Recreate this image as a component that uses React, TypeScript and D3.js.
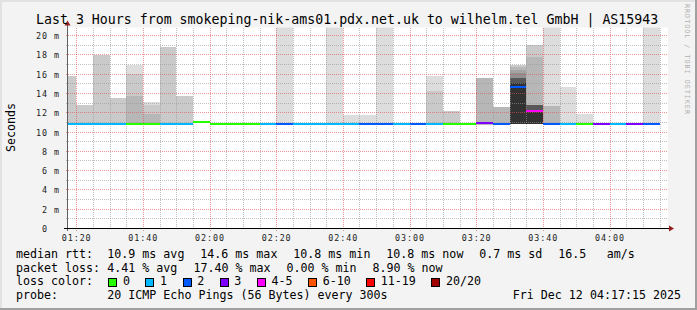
import React from "react";
import * as d3 from "d3";

const W = 697;
const H = 310;

const titleText = "Last 3 Hours from smokeping-nik-ams01.pdx.net.uk to wilhelm.tel GmbH | AS15943";
const yAxisTitle = "Seconds";
const watermark = "RRDTOOL / TOBI OETIKER";

// 5-minute steps (bar start times)
const barStarts = [
  "01:15", "01:20", "01:25", "01:30", "01:35", "01:40", "01:45", "01:50", "01:55",
  "02:00", "02:05", "02:10", "02:15", "02:20", "02:25", "02:30", "02:35", "02:40", "02:45", "02:50", "02:55",
  "03:00", "03:05", "03:10", "03:15", "03:20", "03:25", "03:30", "03:35", "03:40", "03:45", "03:50", "03:55",
  "04:00", "04:05", "04:10",
];
// loss bucket index per step (into lossLabels / lossColors)
const lossBucket = [
  1, 1, 1, 1, 0, 0, 1, 1, 0,
  0, 0, 0, 1, 2, 1, 1, 1, 1, 2, 2, 1,
  2, 1, 0, 0, 3, 2, 2, 4, 2, 1, 0, 3,
  1, 3, 2,
];
// median rtt (ms)
const medianMs = [
  10.8, 10.8, 10.8, 10.8, 10.8, 10.8, 10.8, 10.8, 11.0,
  10.8, 10.8, 10.8, 10.8, 10.8, 10.8, 10.8, 10.8, 10.8, 10.8, 10.8, 10.8,
  10.8, 10.8, 10.8, 10.8, 10.9, 10.8, 14.6, 12.15, 10.8, 10.8, 10.8, 10.8,
  10.8, 10.8, 10.8,
];
// lowest ping (ms) per step
const minPingMs = [
  10.7, 10.7, 10.7, 10.7, 10.7, 10.7, 10.7, 10.7, 10.8,
  10.7, 10.7, 10.7, 10.7, 10.7, 10.7, 10.7, 10.7, 10.7, 10.7, 10.7, 10.7,
  10.7, 10.7, 10.7, 10.7, 10.7, 10.7, 10.75, 10.75, 10.7, 10.7, 10.7, 10.7,
  10.7, 10.7, 10.7,
];
// smoke layers per step: [layer level (1 = outermost), upper ping (ms)]
const smokeLayers: [number, number][][] = [
  [[2, 15.8]],
  [[2, 12.7]],
  [[2, 17.9]],
  [[2, 13.5]],
  [[1, 16.9], [2, 16.0], [3, 13.7]],
  [[1, 13.06], [2, 12.7], [3, 11.85]],
  [[2, 18.76]],
  [[2, 13.7]],
  [],
  [],
  [],
  [],
  [],
  [[1, 25.0]],
  [],
  [],
  [[1, 25.0]],
  [[1, 11.7]],
  [[1, 11.7]],
  [[1, 25.0]],
  [],
  [],
  [[1, 15.78], [2, 14.2]],
  [[2, 12.1]],
  [],
  [[3, 15.58]],
  [[3, 12.57]],
  [[2, 16.9], [3, 16.72], [4, 16.37], [5, 16.03], [8, 15.58], [10, 15.0]],
  [[2, 18.96], [3, 17.75], [8, 12.75], [10, 12.2]],
  [[1, 25.0], [3, 12.6]],
  [[1, 14.6]],
  [[1, 11.85]],
  [],
  [],
  [],
  [[1, 25.0]],
];

const lossLabels = ["0", "1", "2", "3", "4-5", "6-10", "11-19", "20/20"];
const lossColors = ["#26ff00", "#00b8ff", "#0059ff", "#7e00ff", "#ff00ff", "#ff5500", "#ff0000", "#a10000"];

const yTickValues = [0, 2, 4, 6, 8, 10, 12, 14, 16, 18, 20];

const medianLine = ["median rtt:", "10.9 ms avg", "14.6 ms max", "10.8 ms min", "10.8 ms now", "0.7 ms sd"];
const medianExtra = ["16.5", "am/s"];
const lossLine = ["packet loss:", "4.41 % avg", "17.40 % max", "0.00 % min", "8.90 % now"];
const lossColorTitle = "loss color:";
const probeLine = ["probe:", "20 ICMP Echo Pings (56 Bytes) every 300s"];
const dateText = "Fri Dec 12 04:17:15 2025";

const FONT = "'DejaVu Sans Mono', monospace";

function toDate(s: string) {
  const [h, m] = s.split(":").map(Number);
  return new Date(2025, 11, 12, h, m, 0);
}

function grey(level: number) {
  const v = Math.round((190 / 10) * (10 - level) + 50);
  return d3.rgb(v, v, v).formatHex();
}

export default function App() {
  const X0 = 67;
  const X1 = 667;
  const YB = 228;
  const YT = 27.5;
  const tStart = new Date(2025, 11, 12, 1, 17, 15);
  const tEnd = new Date(2025, 11, 12, 4, 17, 15);
  const x = d3.scaleTime().domain([tStart, tEnd]).range([X0, X1]);
  const y = d3.scaleLinear().domain([0, (YB - YT) / 9.65]).range([YB, YT]);

  const majorT = d3.timeMinute.every(20)!.range(tStart, tEnd);
  const minorT = d3.timeMinute
    .every(5)!
    .range(tStart, tEnd)
    .filter((t) => t.getMinutes() % 20 !== 0);
  const fmt = d3.timeFormat("%H:%M");
  const yMinor = d3.range(1, 21);

  const GRID_MINOR = "rgba(150,150,150,0.6)";
  const GRID_MAJOR = "rgba(225,80,80,0.6)";

  const bars = barStarts.map((s, i) => {
    const t0 = toDate(s);
    const t1 = d3.timeMinute.offset(t0, 5);
    return {
      x0: Math.round(Math.max(X0, x(t0))),
      x1: Math.round(Math.min(X1, x(t1))),
      i,
    };
  });

  const CW = 7.02; // legend char pitch
  const legendFont = 11.65;
  const L1 = 258;
  const L2 = 271.7;
  const L3 = 285.4;
  const L4 = 299;

  // legend boxes layout
  const boxes: { bx: number; lx: number; i: number }[] = [];
  let bx = 108.3;
  lossLabels.forEach((lab, i) => {
    boxes.push({ bx, lx: bx + 14.7, i });
    bx += 30.1 + lab.length * CW;
  });

  const gridTop = 28;

  return (
    <svg
      width={W}
      height={H}
      style={{ position: "absolute", left: 0, top: 0, display: "block" }}
      fontFamily={FONT}
    >
      <defs>
        <clipPath id="plotclip">
          <rect x={X0} y={YT} width={X1 - X0} height={YB - YT} />
        </clipPath>
        <pattern id="hMinor" x={0} y={0} width={2} height={1} patternUnits="userSpaceOnUse">
          <rect x={0} y={0} width={1} height={1} fill={GRID_MINOR} />
        </pattern>
        <pattern id="hMajor" x={0} y={0} width={2} height={1} patternUnits="userSpaceOnUse">
          <rect x={0} y={0} width={1} height={1} fill={GRID_MAJOR} />
        </pattern>
        <pattern id="vMinor" x={0} y={0} width={1} height={2} patternUnits="userSpaceOnUse">
          <rect x={0} y={0} width={1} height={1} fill={GRID_MINOR} />
        </pattern>
        <pattern id="vMajor" x={0} y={0} width={1} height={2} patternUnits="userSpaceOnUse">
          <rect x={0} y={0} width={1} height={1} fill={GRID_MAJOR} />
        </pattern>
      </defs>
      {/* background + frame */}
      <rect x={0} y={0} width={W} height={H} fill="#f3f3f3" />
      <rect x={0} y={0} width={W} height={2} fill="#e2e2e2" />
      <rect x={0} y={0} width={2} height={H} fill="#e2e2e2" />
      <rect x={0} y={H - 2} width={W} height={2} fill="#a0a0a0" />
      <rect x={W - 2} y={0} width={2} height={H} fill="#a0a0a0" />

      {/* canvas */}
      <rect x={X0} y={YT} width={X1 - X0 + 1} height={YB - YT} fill="#ffffff" />

      {/* smoke */}
      <g clipPath="url(#plotclip)">
        {bars.map((b) =>
          smokeLayers[b.i].map(([lvl, top], k) => {
            const yt = Math.round(y(top));
            const yb = Math.round(y(minPingMs[b.i]));
            return (
              <rect
                key={`s${b.i}-${k}`}
                x={b.x0}
                y={yt}
                width={b.x1 - b.x0}
                height={Math.max(0, yb - yt)}
                fill={grey(lvl)}
                shapeRendering="crispEdges"
              />
            );
          })
        )}
      </g>

      {/* grid (dotted, 1px on / 1px off) */}
      <g shapeRendering="crispEdges">
        {minorT.map((t, i) => (
          <rect
            key={`vm${i}`}
            x={Math.round(x(t))}
            y={gridTop}
            width={1}
            height={YB + 2 - gridTop}
            fill="url(#vMinor)"
          />
        ))}
        {yMinor.map((v) => (
          <rect
            key={`hm${v}`}
            x={X0 - 2}
            y={Math.round(y(v))}
            width={X1 + 1 - (X0 - 2)}
            height={1}
            fill={v % 2 === 0 ? "url(#hMajor)" : "url(#hMinor)"}
          />
        ))}
        {majorT.map((t, i) => (
          <rect
            key={`vM${i}`}
            x={Math.round(x(t))}
            y={gridTop}
            width={1}
            height={YB + 3 - gridTop}
            fill="url(#vMajor)"
          />
        ))}
      </g>

      {/* median lines */}
      <g clipPath="url(#plotclip)">
        {bars.map((b) => {
          const ym = Math.round(y(medianMs[b.i]));
          return (
            <line
              key={`m${b.i}`}
              x1={b.x0}
              x2={b.x1}
              y1={ym}
              y2={ym}
              stroke={lossColors[lossBucket[b.i]]}
              strokeWidth={2}
              shapeRendering="crispEdges"
            />
          );
        })}
      </g>

      {/* axes */}
      <line x1={X0 + 0.5} x2={X0 + 0.5} y1={YB + 3} y2={24} stroke="#606060" shapeRendering="crispEdges" />
      <line x1={X0 - 3} x2={671} y1={YB + 0.5} y2={YB + 0.5} stroke="#000" shapeRendering="crispEdges" />
      <path d={`M${X0 + 0.5},20.5 L${X0 - 2.5},25.5 L${X0 + 3.5},25.5 Z`} fill="#962020" />
      <path d={`M674,${YB + 0.5} L669,${YB - 2.5} L669,${YB + 3.5} Z`} fill="#962020" />

      {/* y tick labels */}
      <g fontSize={8.4} letterSpacing={0.95} fill="#222">
        {yTickValues.map((v) => {
          const lab = v === 0 ? "0" : `${v} m`;
          const n = v === 0 ? 3 : lab.length;
          return (
            <text key={`yl${v}`} x={60 - n * 6} y={Math.round(y(v)) + 3.6}>
              {lab}
            </text>
          );
        })}
      </g>

      {/* x tick labels */}
      <g fontSize={8.4} letterSpacing={0.95} fill="#222">
        {majorT.map((t, i) => (
          <text key={`xl${i}`} x={x(t) - 14.5} y={240.6}>
            {fmt(t)}
          </text>
        ))}
      </g>

      {/* title */}
      <text x={36} y={24} fontSize={13.25} fill="#000">
        {titleText}
      </text>

      {/* y axis title */}
      <text
        transform={`translate(15,127.5) rotate(-90)`}
        textAnchor="middle"
        fontSize={11.65}
        fill="#000"
      >
        {yAxisTitle}
      </text>

      {/* watermark */}
      <text
        transform={`translate(685,4) rotate(90)`}
        fontSize={6.8}
        letterSpacing={0.95}
        fill="#b0b0b0"
      >
        {watermark}
      </text>

      {/* legend */}
      <g fontSize={legendFont} fill="#000">
        <text x={16} y={L1}>{medianLine[0]}</text>
        {medianLine.slice(1).map((s, k) => (
          <text key={`ml${k}`} x={107.3 + 93 * k} y={L1}>
            {s}
          </text>
        ))}
        <text x={558.3} y={L1}>{medianExtra[0]}</text>
        <text x={606.7} y={L1}>{medianExtra[1]}</text>

        <text x={16} y={L2}>{lossLine[0]}</text>
        <text x={107.3} y={L2}>{lossLine[1]}</text>
        <text x={193.5} y={L2}>{lossLine[2]}</text>
        <text x={286.5} y={L2}>{lossLine[3]}</text>
        <text x={372.5} y={L2}>{lossLine[4]}</text>

        <text x={16} y={L3}>{lossColorTitle}</text>
        {boxes.map((b) => (
          <g key={`lb${b.i}`}>
            <rect
              x={Math.round(b.bx) + 0.5}
              y={278.5}
              width={8}
              height={8}
              fill={lossColors[b.i]}
              stroke="#000"
              strokeWidth={1}
              shapeRendering="crispEdges"
            />
            <text x={b.lx} y={L3}>
              {lossLabels[b.i]}
            </text>
          </g>
        ))}

        <text x={16} y={L4}>{probeLine[0]}</text>
        <text x={107.3} y={L4}>{probeLine[1]}</text>
        <text x={681} y={L4} textAnchor="end">
          {dateText}
        </text>
      </g>
    </svg>
  );
}
